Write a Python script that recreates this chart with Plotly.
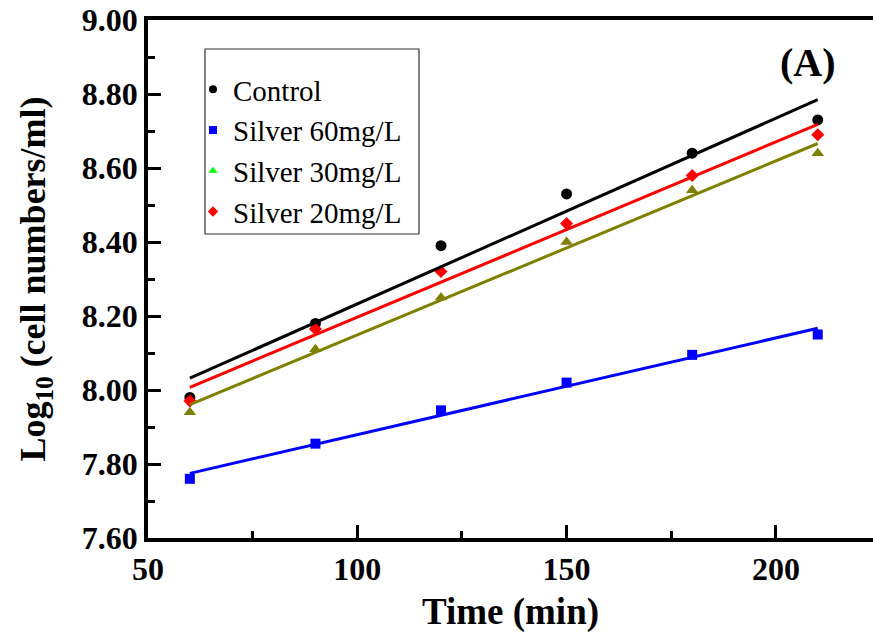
import numpy as np
import plotly.graph_objects as go

time_min = [60, 90, 120, 150, 180, 210]
control = [7.98, 8.18, 8.39, 8.53, 8.64, 8.73]
silver60 = [7.76, 7.855, 7.945, 8.02, 8.095, 8.15]
silver30 = [7.94, 8.11, 8.25, 8.40, 8.54, 8.64]
silver20 = [7.97, 8.165, 8.32, 8.45, 8.58, 8.69]

x_ticks = [50, 100, 150, 200]
x_minor = [75, 125, 175]
y_ticks = [7.6, 7.8, 8.0, 8.2, 8.4, 8.6, 8.8, 9.0]
y_ticklabels = ["7.60", "7.80", "8.00", "8.20", "8.40", "8.60", "8.80", "9.00"]
y_minor = [7.7, 7.9, 8.1, 8.3, 8.5, 8.7, 8.9]

series = [
    ("Control", control, "black", "black", "circle", 11),
    ("Silver 60mg/L", silver60, "#0000ff", "#0000ff", "square", 10),
    ("Silver 30mg/L", silver30, "#808000", "#00ff00", "triangle-up", 11),
    ("Silver 20mg/L", silver20, "#ff0000", "#ff0000", "diamond", 10),
]

FONT = "Liberation Serif"
fig = go.Figure()

# data markers
for name, ys, col, lcol, sym, sz in series:
    fig.add_trace(go.Scatter(x=time_min, y=ys, mode="markers", showlegend=False,
                             marker=dict(color=col, symbol=sym, size=sz, line=dict(width=0))))
# linear fits
for name, ys, col, lcol, sym, sz in series:
    k, b = np.polyfit(time_min, ys, 1)
    xs = [time_min[0], time_min[-1]]
    fig.add_trace(go.Scatter(x=xs, y=[k * v + b for v in xs], mode="lines", showlegend=False,
                             line=dict(color=col, width=3)))
# legend entries
for i, (name, ys, col, lcol, sym, sz) in enumerate(series):
    fig.add_trace(go.Scatter(x=[None], y=[None], mode="markers", name=name,
                             legendgroup=f"g{i}",
                             marker=dict(color=lcol, symbol=sym, size=8, line=dict(width=0))))

def px(wx):
    return (wx - 148) / 725

def py(wy):
    return (538 - wy) / 518

fig.add_shape(type="rect", xref="paper", yref="paper",
              x0=px(205), x1=px(419), y0=py(234), y1=py(49),
              line=dict(color="#333333", width=1.2), fillcolor="rgba(0,0,0,0)")

fig.add_annotation(text="<b>(A)</b>", x=px(808), y=py(63), xanchor="center", yanchor="middle",
                   xref="paper", yref="paper", showarrow=False,
                   font=dict(family=FONT, size=40, color="black"))

fig.update_layout(
    width=873, height=637,
    margin=dict(l=148, r=0, t=20, b=99, autoexpand=False),
    plot_bgcolor="white", paper_bgcolor="white",
    font=dict(family=FONT, color="black"),
    legend=dict(x=px(193), y=py(64), xanchor="left", yanchor="top",
                bgcolor="rgba(0,0,0,0)", borderwidth=0, tracegroupgap=0,
                font=dict(family=FONT, size=29, color="black"), itemwidth=30),
)
fig.update_xaxes(range=[50, 223.2], tickvals=x_ticks, ticks="inside",
                 ticklen=13, tickwidth=3, tickcolor="black",
                 showline=True, linewidth=3.5, linecolor="black", mirror=True,
                 showgrid=False, zeroline=False, ticklabeloverflow="allow", automargin=False,
                 minor=dict(tickvals=x_minor, ticks="inside", ticklen=7, tickwidth=3, tickcolor="black"),
                 tickfont=dict(family=FONT, size=32, color="black", weight="bold"),
                 title=dict(text="Time (min)", standoff=13,
                            font=dict(family=FONT, size=37, color="black", weight="bold")))
fig.update_yaxes(range=[7.6, 9.0], tickvals=y_ticks, ticktext=y_ticklabels, ticks="inside",
                 ticklen=13, tickwidth=3, tickcolor="black",
                 showline=True, linewidth=3.5, linecolor="black", mirror=False,
                 showgrid=False, zeroline=False, ticklabeloverflow="allow", automargin=False,
                 minor=dict(tickvals=y_minor, ticks="inside", ticklen=7, tickwidth=3, tickcolor="black"),
                 tickfont=dict(family=FONT, size=32, color="black", weight="bold"),
                 title=dict(text="Log<sub>10</sub> (cell numbers/ml)", standoff=26,
                            font=dict(family=FONT, size=36, color="black", weight="bold")))

fig.write_html("out.html", config={"displayModeBar": False},
               post_script="document.body.style.margin='0';document.body.style.overflow='hidden';")
